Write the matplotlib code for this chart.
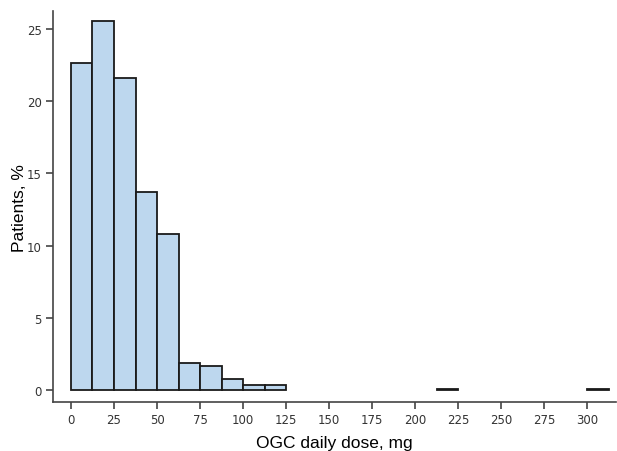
import matplotlib.pyplot as plt

# histogram bins (left edge, mg) and share of patients (%)
bin_left = [0, 12.5, 25, 37.5, 50, 62.5, 75, 87.5, 100, 112.5, 212.5, 300]
pct = [22.65, 25.55, 21.6, 13.7, 10.8, 1.9, 1.64, 0.76, 0.35, 0.35, 0.09, 0.09]
bin_width = 12.5

xticks = list(range(0, 325, 25))
yticks = [0, 5, 10, 15, 20, 25]

fig = plt.figure(figsize=(6.17, 4.52), dpi=100)
ax = fig.add_axes([0.086, 0.108, 0.912, 0.865])

ax.bar(bin_left, pct, width=bin_width, align='edge',
       color='#bdd7ee', edgecolor='#1a1a1a', linewidth=1.3)

ax.set_xlim(-10.4, 316.5)
ax.set_ylim(-0.83, 26.2)
ax.set_xticks(xticks)
ax.set_yticks(yticks)

for s in ['top', 'right']:
    ax.spines[s].set_visible(False)
for s in ['left', 'bottom']:
    ax.spines[s].set_color('#444444')
    ax.spines[s].set_linewidth(1.2)

ax.tick_params(colors='#444444', labelsize=8.5, length=5, width=1.2, pad=3)
ax.tick_params(axis='x', labelcolor='#333333')
ax.tick_params(axis='y', labelcolor='#333333')

ax.set_xlabel('OGC daily dose, mg', fontsize=12.5, family='Liberation Sans', labelpad=6)
ax.set_ylabel('Patients, %', fontsize=12.5, family='Liberation Sans', labelpad=0)

fig.savefig('out.png', dpi=100)
